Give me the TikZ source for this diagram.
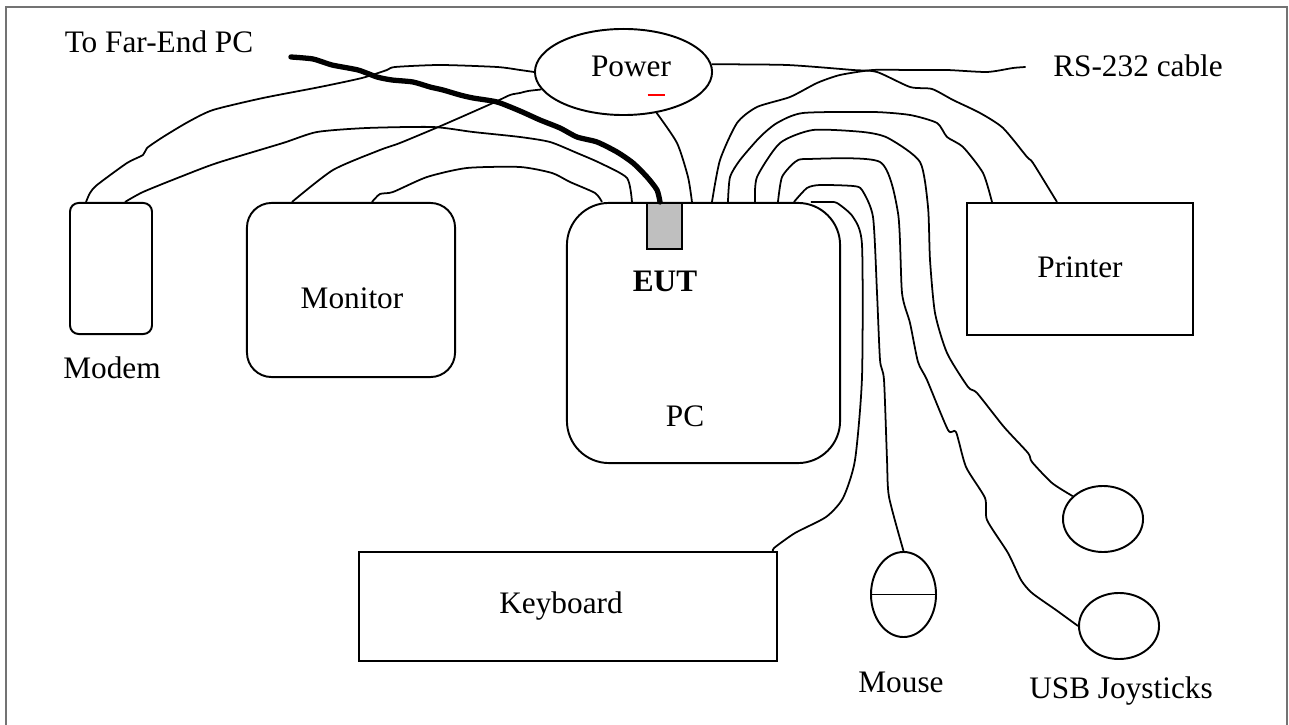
\documentclass[tikz,border=0pt]{standalone}
\usepackage{fontspec}
\setmainfont{Liberation Serif}
\usetikzlibrary{calc,shapes.geometric}

\begin{document}
\begin{tikzpicture}[x=0.01cm,y=-0.01cm,
  every node/.style={font=\fontsize{8.9}{10.7}\selectfont},
  dev/.style={draw,line width=0.55pt,inner sep=0pt},
  lbl/.style={anchor=base,inner sep=0pt},
  cable/.style={line width=0.5pt,line join=round},
  fatcable/.style={line width=1.5pt,line join=round,line cap=round}]
\useasboundingbox (0,0) rectangle (1289,725);
\draw[black!55,line width=0.5pt] (6,7) rectangle (1287,740);
% devices
\node[dev,rounded corners=2.5pt,minimum width=0.82cm,minimum height=1.31cm] (modem) at (111,268.5) {};
\node[dev,rounded corners=7pt,minimum width=2.08cm,minimum height=1.74cm] (monitor) at (351,290) {};
\node[dev,rounded corners=12pt,minimum width=2.73cm,minimum height=2.6cm] (pc) at (703.5,333) {};
\node[dev,fill=black!25,minimum width=0.35cm,minimum height=0.46cm] (eut) at (664.5,226) {};
\node[dev,minimum width=2.26cm,minimum height=1.32cm] (printer) at (1080,269) {};
\node[dev,minimum width=4.18cm,minimum height=1.09cm] (kbd) at (568,606.5) {};
\node[dev,ellipse,minimum width=1.77cm,minimum height=0.86cm] (pwr) at (623.5,72) {};
\node[dev,ellipse,minimum width=0.65cm,minimum height=0.85cm] (mouse) at (903.5,594.5) {};
\node[dev,ellipse,minimum width=0.8cm,minimum height=0.66cm] (joy1) at (1103,519) {};
\node[dev,ellipse,minimum width=0.8cm,minimum height=0.66cm] (joy2) at (1119,626) {};
\draw[cable] (mouse.west) -- (mouse.east);
\draw[red,line width=0.7pt] ($(pwr.center)+(24,23)$) -- ++(17,0);

\node[lbl] (farend) at (159,53) {To Far-End PC};
\node[lbl] (pwrlbl) at (631,77) {Power};
\node[lbl] (rs) at (1138,77) {RS-232 cable};
\node[lbl] (modemlbl) at (112,379) {Modem};
\node[lbl] (monitorlbl) at (352,309) {Monitor};
\node[lbl] (eutlbl) at (665,292) {\bfseries EUT};
\node[lbl] (pclbl) at (685,426) {PC};
\node[lbl] (printerlbl) at (1080,278) {Printer};
\node[lbl] (kbdlbl) at (561,613) {Keyboard};
\node[lbl] (mouselbl) at (901,692) {Mouse};
\node[lbl] (joylbl) at (1121,698) {USB Joysticks};

\foreach \p/\dx in {c/36,d/66,f/126,rs/146,h/162,i/189,j/212,k/228,l/245}
  \coordinate (pc-\p) at ($(pc.north west)+(\dx,0)$);
\coordinate (modem-a) at ($(modem.north)+(-25,0)$);
\coordinate (modem-d) at ($(modem.north)+(14,0)$);
\coordinate (monitor-b) at ($(monitor.north west)+(46,0)$);
\coordinate (monitor-c) at ($(monitor.north west)+(126,0)$);
\coordinate (farend-end) at ($(farend.base east)+(37,4)$);
\coordinate (rs-end) at ($(rs.base west)+(-27,-10)$);
\coordinate (prn-g) at ($(printer.north west)+(91,0)$);
\coordinate (prn-h) at ($(printer.north west)+(26,0)$);
\coordinate (kbd-l) at ($(kbd.north east)+(-5,0)$);

\draw[fatcable] plot[smooth,tension=0.4] coordinates {(farend-end) (313,59) (332,65) (358,70) (377,77) (392,80) (413,82) (430,87) (443,90) (460,95) (473,98) (497,102) (520,111) (540,120) (560,128) (577,137) (597,142) (617,152) (633,163) (647,177) (657,190) ($(eut.north)+(-4.5,0)$)};

\draw[cable] plot[smooth,tension=0.4] coordinates {(modem-a) (90,193) (97,185) (127,163) (143,155) (147,148) (163,137) (188,122) (213,110) (263,98) (320,87) (362,78) (387,70) (395,67) (440,65) (497,67) (520,70) (pwr.west)};
\draw[cable] plot[smooth,tension=0.4] coordinates {(monitor-b) (333,170) (380,150) (400,143) (443,125) (493,103) (510,95) (520,93) (528,91) (pwr.192)};
\draw[cable] plot[smooth,tension=0.4] coordinates {(monitor-c) (380,194) (393,192) (427,177) (467,168) (520,167) (552,173) (570,182) (595,193) (pc-c)};
\draw[cable] plot[smooth,tension=0.4] coordinates {(modem-d) (143,192) (180,177) (217,163) (283,143) (317,132) (367,128) (433,127) (473,132) (520,137) (550,142) (577,153) (600,163) (627,178) (pc-d)};
\draw[cable] plot[smooth,tension=0.4] coordinates {(pwr.-51) (677,143) (688,177) (pc-f)};
\draw[cable] plot[smooth,tension=0.4] coordinates {(pc-rs) (720,160) (737,123) (757,107) (790,97) (817,83) (840,75) (873,70) (910,70) (947,70) (987,72) (1013,68) (rs-end)};
\draw[cable] plot[smooth,tension=0.4] coordinates {(pwr.5) (787,65) (853,70) (877,72) (910,87) (932,89) (953,100) (980,113) (1003,128) (1027,157) (1033,163) (prn-g)};
\draw[cable] plot[smooth,tension=0.4] coordinates {(pc-h) (730,177) (740,160) (760,137) (777,123) (803,113) (873,112) (910,115) (937,123) (947,137) (963,147) (983,173) (prn-h)};
\draw[cable] plot[smooth,tension=0.4] coordinates {(pc-i) (757,177) (780,143) (813,130) (863,132) (888,138) (920,162) (928,207) (930,260) (935,313) (947,353) (968,387) (977,393) (1004,427) (1028,453) (1032,462) (1052,483) (joy1.143)};
\draw[cable] plot[smooth,tension=0.4] coordinates {(pc-j) (782,177) (795,162) (807,159) (880,162) (898,213) (902,293) (910,323) (918,362) (927,380) (948,430) (956,432) (966,467) (985,498) (987,520) (1008,553) (1021,580) (1032,593) (1056,610) (joy2.west)};
\draw[cable] plot[smooth,tension=0.4] coordinates {(pc-k) (807,188) (820,185) (853,186) (862,190) (873,217) (877,293) (880,360) (884,380) (887,460) (889,497) (mouse.north)};
\draw[cable] plot[smooth,tension=0.4] coordinates {(pc-l) (827,202) (837,203) (853,217) (862,245) (862,377) (855,460) (843,498) (826,517) (795,533) (774,548) (kbd-l)};
\end{tikzpicture}
\end{document}
